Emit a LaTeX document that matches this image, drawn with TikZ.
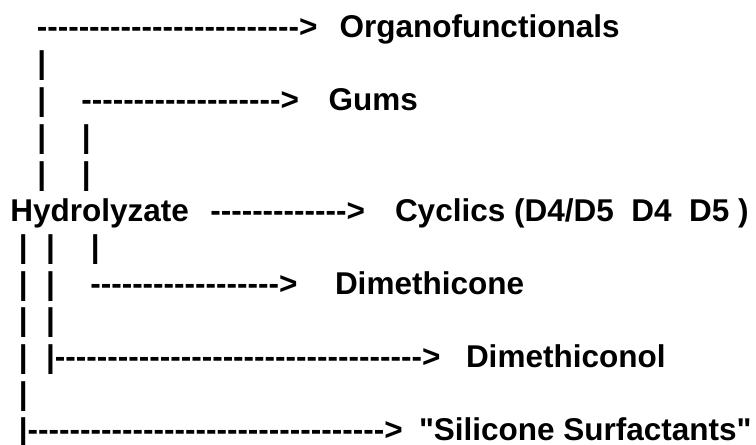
\documentclass[tikz,border=0pt]{standalone}
\usepackage{fontspec}
\setmainfont{Liberation Sans}[Ligatures=TeXOff]
\begin{document}
\begin{tikzpicture}[x=1pt,y=-1pt,
  txt/.style={anchor=base west,inner sep=0pt,outer sep=0pt,font=\fontsize{31.5}{36}\selectfont\bfseries}]
\useasboundingbox (0,0) rectangle (756,445);
% line 1
\node[txt] (a1) at (36.8,37.2) {------------------------->};
\node[txt] (org) at (339.5,37.2) {Organofunctionals};
% line 2
\node[txt] (b2) at (37.3,73.9) {|};
% line 3
\node[txt] (b3) at (37.3,110.6) {|};
\node[txt] (a3) at (81.3,110.6) {------------------->};
\node[txt] (gums) at (328.5,110.6) {Gums};
% line 4-5
\node[txt] (b4a) at (37.3,147.3) {|};
\node[txt] (b4b) at (81.8,147.3) {|};
\node[txt] (b5a) at (37.3,184) {|};
\node[txt] (b5b) at (81.8,184) {|};
% line 6
\node[txt] (hyd) at (10.4,221) {Hydrolyzate};
\node[txt] (a6) at (210.3,221) {------------->};
\node[txt] (cyc) at (395,221) {Cyclics (D4/D5\ \ D4\ \ D5 )};
% line 7
\node[txt] (b7a) at (18.9,257.4) {|};
\node[txt] (b7b) at (46.1,257.4) {|};
\node[txt] (b7c) at (90.9,257.4) {|};
% line 8
\node[txt] (b8a) at (18.9,294.1) {|};
\node[txt] (b8b) at (46.1,294.1) {|};
\node[txt] (a8) at (90.3,294.1) {------------------>};
\node[txt] (dim) at (335,294.1) {Dimethicone};
% line 9
\node[txt] (b9a) at (18.9,330.8) {|};
\node[txt] (b9b) at (46.1,330.8) {|};
% line 10
\node[txt] (b10a) at (18.9,367.5) {|};
\node[txt] (a10) at (46.1,367.5) {|----------------------------------->};
\node[txt] (dol) at (466,367.5) {Dimethiconol};
% line 11
\node[txt] (b11) at (18.9,404.2) {|};
% line 12
\node[txt] (a12) at (18.9,440.9) {|---------------------------------->};
\node[txt] (sil) at (419,440.9) {"Silicone Surfactants"};
\end{tikzpicture}
\end{document}
